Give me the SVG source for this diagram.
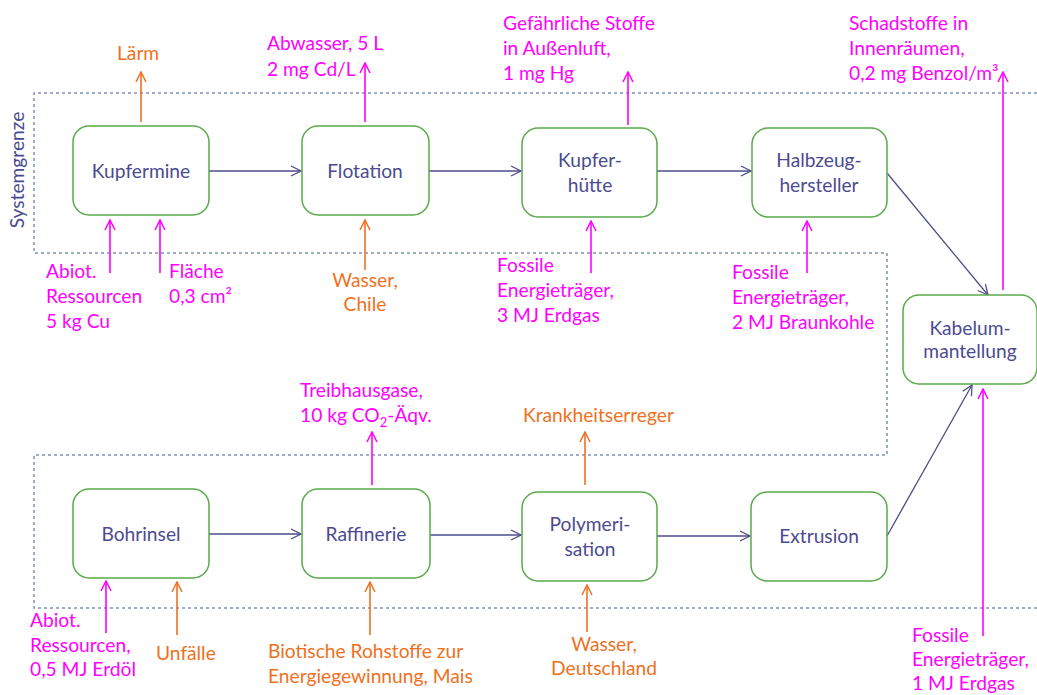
<svg xmlns="http://www.w3.org/2000/svg" width="1037" height="695" viewBox="0 0 1037 695">
<style>
text{font-family:Lato,"Liberation Sans",sans-serif;font-size:19.2px}
.n{fill:#4b4b8f;text-anchor:middle}
.m{fill:#ff00ff}
.o{fill:#f07020}
.box{fill:#fff;stroke:#5aaa4a;stroke-width:1.5}
.c{stroke:#4d4d8c;stroke-width:1.3;fill:none}
.cm{stroke:#ff00ff;stroke-width:1.6;fill:none}
.co{stroke:#f07020;stroke-width:1.6;fill:none}
.sg{fill:none;stroke:#7f92b0;stroke-width:1.5;stroke-dasharray:3 3}
</style>
<defs>
<marker id="ab" markerWidth="12" markerHeight="12" refX="11" refY="6" orient="auto" markerUnits="userSpaceOnUse"><path d="M1,1 L11,6 L1,11" fill="none" stroke="#4d4d8c" stroke-width="1.3"/></marker>
<marker id="am" markerWidth="12" markerHeight="12" refX="11" refY="6" orient="auto" markerUnits="userSpaceOnUse"><path d="M1,1 L11,6 L1,11" fill="none" stroke="#ff00ff" stroke-width="1.5"/></marker>
<marker id="ao" markerWidth="12" markerHeight="12" refX="11" refY="6" orient="auto" markerUnits="userSpaceOnUse"><path d="M1,1 L11,6 L1,11" fill="none" stroke="#f07020" stroke-width="1.5"/></marker>
</defs>
<rect width="1037" height="695" fill="#fff"/>
<g id="systemgrenze">
<path class="sg" d="M1037,93 H34 V253 H887 V455 H34 V608 H1037"/>
<text transform="translate(24,170) rotate(-90)" class="n">Systemgrenze</text>
</g>
<g id="connectors">
<line class="c" x1="209" y1="171" x2="301" y2="171" marker-end="url(#ab)"/>
<line class="c" x1="429" y1="171" x2="521" y2="171" marker-end="url(#ab)"/>
<line class="c" x1="657" y1="171" x2="751" y2="171" marker-end="url(#ab)"/>
<line class="c" x1="887" y1="173" x2="988" y2="295" marker-end="url(#ab)"/>
<line class="c" x1="209" y1="534" x2="301" y2="534" marker-end="url(#ab)"/>
<line class="c" x1="430" y1="535" x2="521" y2="535" marker-end="url(#ab)"/>
<line class="c" x1="657" y1="536" x2="750" y2="536" marker-end="url(#ab)"/>
<line class="c" x1="887" y1="536" x2="972" y2="385" marker-end="url(#ab)"/>
<line class="co" x1="141" y1="122" x2="141" y2="72" marker-end="url(#ao)"/>
<line class="cm" x1="365" y1="122" x2="365" y2="63" marker-end="url(#am)"/>
<line class="cm" x1="628" y1="125" x2="628" y2="72" marker-end="url(#am)"/>
<line class="cm" x1="1003" y1="290" x2="1003" y2="72" marker-end="url(#am)"/>
<line class="cm" x1="110" y1="273" x2="110" y2="220" marker-end="url(#am)"/>
<line class="cm" x1="160" y1="273" x2="160" y2="220" marker-end="url(#am)"/>
<line class="co" x1="365" y1="270" x2="365" y2="220" marker-end="url(#ao)"/>
<line class="cm" x1="591" y1="273" x2="591" y2="221" marker-end="url(#am)"/>
<line class="cm" x1="807" y1="273" x2="807" y2="221" marker-end="url(#am)"/>
<line class="cm" x1="983" y1="636" x2="983" y2="389" marker-end="url(#am)"/>
<line class="cm" x1="372" y1="485" x2="372" y2="432" marker-end="url(#am)"/>
<line class="co" x1="585" y1="485" x2="585" y2="432" marker-end="url(#ao)"/>
<line class="cm" x1="106" y1="633" x2="106" y2="581" marker-end="url(#am)"/>
<line class="co" x1="177" y1="635" x2="177" y2="582" marker-end="url(#ao)"/>
<line class="co" x1="370" y1="635" x2="370" y2="582" marker-end="url(#ao)"/>
<line class="co" x1="587" y1="632" x2="587" y2="585" marker-end="url(#ao)"/>
</g>
<g id="kupfermine"><rect class="box" x="73" y="126" width="136" height="89" rx="16"/><text class="n" x="141" y="178">Kupfermine</text></g>
<g id="flotation"><rect class="box" x="302" y="126" width="127" height="89" rx="16"/><text class="n" x="365" y="178">Flotation</text></g>
<g id="kupferhuette"><rect class="box" x="522" y="128" width="135" height="89" rx="16"/><text class="n" x="590" y="167">Kupfer-</text><text class="n" x="590" y="192">hütte</text></g>
<g id="halbzeughersteller"><rect class="box" x="752" y="128" width="135" height="89" rx="16"/><text class="n" x="819" y="167">Halbzeug-</text><text class="n" x="819" y="192">hersteller</text></g>
<g id="kabelummantellung"><rect class="box" x="903" y="295" width="134" height="89" rx="16"/><text class="n" x="970" y="335">Kabelum-</text><text class="n" x="970" y="358">mantellung</text></g>
<g id="bohrinsel"><rect class="box" x="73" y="489" width="136" height="89" rx="16"/><text class="n" x="141" y="541">Bohrinsel</text></g>
<g id="raffinerie"><rect class="box" x="302" y="489" width="128" height="89" rx="16"/><text class="n" x="366" y="541">Raffinerie</text></g>
<g id="polymerisation"><rect class="box" x="522" y="492" width="135" height="89" rx="16"/><text class="n" x="590" y="531">Polymeri-</text><text class="n" x="590" y="556">sation</text></g>
<g id="extrusion"><rect class="box" x="751" y="492" width="136" height="89" rx="16"/><text class="n" x="819" y="543">Extrusion</text></g>
<g id="labels">
<text class="o" x="117" y="60">Lärm</text>
<text class="m" x="267" y="50">Abwasser, 5 L</text>
<text class="m" x="267" y="76">2 mg Cd/L</text>
<text class="m" x="503" y="30">Gefährliche Stoffe</text>
<text class="m" x="503" y="55">in Außenluft,</text>
<text class="m" x="503" y="80">1 mg Hg</text>
<text class="m" x="849" y="30">Schadstoffe in</text>
<text class="m" x="849" y="55">Innenräumen,</text>
<text class="m" x="849" y="80">0,2 mg Benzol/m³</text>
<text class="m" x="46" y="278">Abiot.</text>
<text class="m" x="46" y="303">Ressourcen</text>
<text class="m" x="46" y="328">5 kg Cu</text>
<text class="m" x="169" y="278">Fläche</text>
<text class="m" x="169" y="303">0,3 cm²</text>
<text class="o" x="365" y="287" text-anchor="middle">Wasser,</text>
<text class="o" x="365" y="311" text-anchor="middle">Chile</text>
<text class="m" x="497" y="272">Fossile</text>
<text class="m" x="497" y="297">Energieträger,</text>
<text class="m" x="497" y="322">3 MJ Erdgas</text>
<text class="m" x="732" y="279">Fossile</text>
<text class="m" x="732" y="304">Energieträger,</text>
<text class="m" x="732" y="329">2 MJ Braunkohle</text>
<text class="m" x="300" y="397">Treibhausgase,</text>
<text class="m" x="300" y="422">10 kg CO<tspan font-size="13" dy="5">2</tspan><tspan dy="-5">-Äqv.</tspan></text>
<text class="o" x="523" y="422">Krankheitserreger</text>
<text class="m" x="30" y="627">Abiot.</text>
<text class="m" x="30" y="652">Ressourcen,</text>
<text class="m" x="30" y="676">0,5 MJ Erdöl</text>
<text class="o" x="156" y="660">Unfälle</text>
<text class="o" x="268" y="658">Biotische Rohstoffe zur</text>
<text class="o" x="268" y="683">Energiegewinnung, Mais</text>
<text class="o" x="604" y="651" text-anchor="middle">Wasser,</text>
<text class="o" x="604" y="675" text-anchor="middle">Deutschland</text>
<text class="m" x="912" y="642">Fossile</text>
<text class="m" x="912" y="666">Energieträger,</text>
<text class="m" x="912" y="690">1 MJ Erdgas</text>
</g>
</svg>
